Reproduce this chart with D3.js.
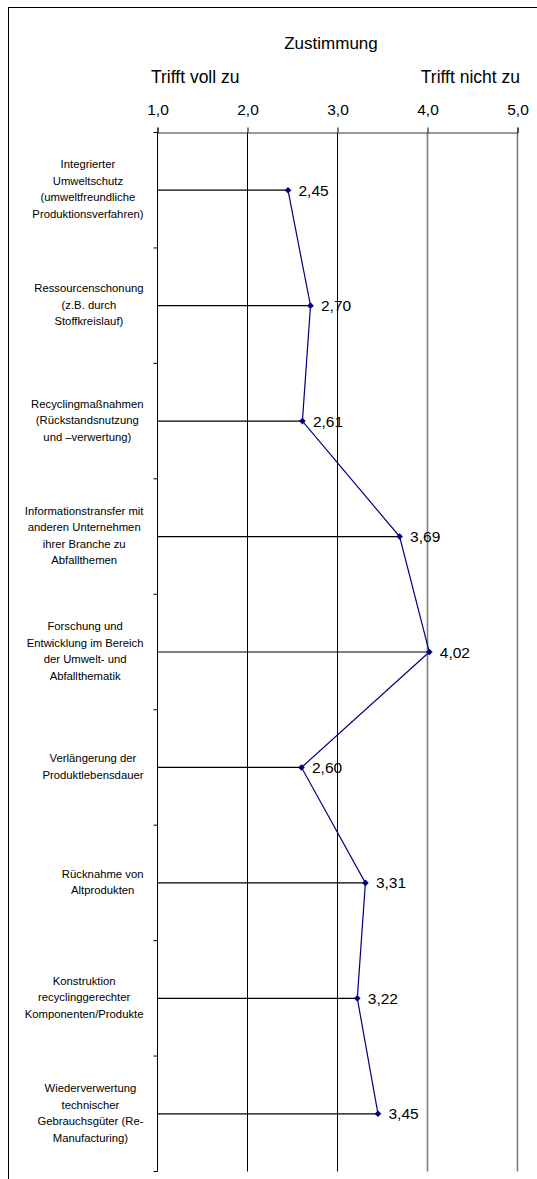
<!DOCTYPE html>
<html>
<head>
<meta charset="utf-8">
<script src="https://cdn.jsdelivr.net/npm/d3@7"></script>
<style>
  html, body { margin: 0; padding: 0; background: #fff; }
  svg { display: block; font-family: "Liberation Sans", Arial, Helvetica, sans-serif; }
</style>
</head>
<body>
<svg id="chart" width="537" height="1179"></svg>
<script>
// Category labels, one entry per line of the wrapped label
const categories = [
  ["Integrierter", "Umweltschutz", "(umweltfreundliche", "Produktionsverfahren)"],
  ["Ressourcenschonung", "(z.B. durch", "Stoffkreislauf)"],
  ["Recyclingmaßnahmen", "(Rückstandsnutzung", "und –verwertung)"],
  ["Informationstransfer mit", "anderen Unternehmen", "ihrer Branche zu", "Abfallthemen"],
  ["Forschung und", "Entwicklung im Bereich", "der Umwelt- und", "Abfallthematik"],
  ["Verlängerung der", "Produktlebensdauer"],
  ["Rücknahme von", "Altprodukten"],
  ["Konstruktion", "recyclinggerechter", "Komponenten/Produkte"],
  ["Wiederverwertung", "technischer", "Gebrauchsgüter (Re-", "Manufacturing)"]
];

// Mean agreement (1 = trifft voll zu, 5 = trifft nicht zu)
const values = [2.45, 2.70, 2.61, 3.69, 4.02, 2.60, 3.31, 3.22, 3.45];

// Scale ticks and headings
const tickValues = [1, 2, 3, 4, 5];
const titleText = "Zustimmung";
const leftAnchorText = "Trifft voll zu";
const rightAnchorText = "Trifft nicht zu";

const de = d3.formatLocale({ decimal: ",", thousands: ".", grouping: [3], currency: ["", " €"] });
const fmtTick = de.format(".1f");
const fmtValue = de.format(".2f");

const svg = d3.select("#chart");

// Outer frame (runs off the right and bottom edges)
svg.append("rect")
  .attr("x", 8.5).attr("y", 7.5)
  .attr("width", 560).attr("height", 1200)
  .attr("fill", "none").attr("stroke", "#000").attr("stroke-width", 1);

const x = d3.scaleLinear().domain([1, 5]).range([157.5, 517.5]);
const y = d3.scaleBand().domain(d3.range(categories.length)).range([132.5, 1171.5]).padding(0);
const cy = i => y(i) + y.bandwidth() / 2;

// Vertical gridlines (the two right-hand ones print softer)
svg.append("g").selectAll("line")
  .data(tickValues.slice(1))
  .join("line")
  .attr("x1", d => x(d)).attr("x2", d => x(d))
  .attr("y1", y.range()[0]).attr("y2", y.range()[1])
  .attr("stroke", d => d >= 4 ? "#7c7c7c" : "#000")
  .attr("stroke-width", d => d >= 4 ? 1.6 : 1);

// Top value axis
const xAxis = d3.axisTop(x).tickValues(tickValues).tickSize(5).tickPadding(13).tickFormat(fmtTick);
const gx = svg.append("g").attr("transform", `translate(0,${y.range()[0]})`).call(xAxis);
gx.select(".domain").attr("stroke", "#333");
gx.selectAll(".tick line").attr("stroke", "#000");
gx.selectAll(".tick text")
  .attr("font-size", 15.5).attr("fill", "#000")
  .attr("font-family", "'Liberation Sans', Arial, sans-serif");

// Left category axis (ticks at band boundaries)
const boundaries = d3.range(categories.length + 1).map(i => y.range()[0] + i * y.bandwidth());
svg.append("line")
  .attr("x1", x(1)).attr("x2", x(1))
  .attr("y1", y.range()[0]).attr("y2", y.range()[1])
  .attr("stroke", "#000").attr("stroke-width", 1);
svg.append("g").selectAll("line")
  .data(boundaries)
  .join("line")
  .attr("x1", x(1) - 4).attr("x2", x(1))
  .attr("y1", d => d).attr("y2", d => d)
  .attr("stroke", "#000").attr("stroke-width", 1);

// Headings
svg.append("text")
  .attr("x", 331).attr("y", 48.5)
  .attr("text-anchor", "middle").attr("font-size", 17).attr("fill", "#000")
  .text(titleText);
svg.append("text")
  .attr("x", 151).attr("y", 82.5)
  .attr("text-anchor", "start").attr("font-size", 17.5).attr("fill", "#000")
  .text(leftAnchorText);
svg.append("text")
  .attr("x", 520).attr("y", 82.5)
  .attr("text-anchor", "end").attr("font-size", 17.5).attr("fill", "#000")
  .text(rightAnchorText);

// Category labels: each block sits left of the axis, lines centred within the block
const lineH = 16.5;
const labelRight = 143.5;
const labelGroups = svg.append("g").selectAll("g")
  .data(categories)
  .join("g");
labelGroups.each(function (lines, i) {
  const g = d3.select(this);
  const n = lines.length;
  const texts = g.selectAll("text")
    .data(lines)
    .join("text")
    .attr("font-size", 11.3)
    .attr("fill", "#000")
    .attr("text-anchor", "middle")
    .attr("y", (d, k) => cy(i) + (k - (n - 1) / 2) * lineH + 3)
    .text(d => d);
  let w = 0;
  texts.each(function () { w = Math.max(w, this.getComputedTextLength()); });
  texts.attr("x", labelRight - w / 2);
});

// Drop lines from the axis to each value
svg.append("g").selectAll("line")
  .data(values)
  .join("line")
  .attr("x1", x(1)).attr("x2", d => x(d))
  .attr("y1", (d, i) => cy(i)).attr("y2", (d, i) => cy(i))
  .attr("stroke", "#000").attr("stroke-width", 1.2);

// Profile line
const line = d3.line().x(d => x(d)).y((d, i) => cy(i));
svg.append("path")
  .datum(values)
  .attr("d", line)
  .attr("fill", "none")
  .attr("stroke", "#000080")
  .attr("stroke-width", 1.2);

// Diamond markers
const diamond = d3.symbol().type(d3.symbolSquare).size(22);
svg.append("g").selectAll("path")
  .data(values)
  .join("path")
  .attr("d", diamond)
  .attr("transform", (d, i) => `translate(${x(d)},${cy(i)}) rotate(45)`)
  .attr("fill", "#000080");

// Value labels
svg.append("g").selectAll("text")
  .data(values)
  .join("text")
  .attr("x", d => x(d) + 10.5)
  .attr("y", (d, i) => cy(i) + 5.5)
  .attr("font-size", 15.5)
  .attr("fill", "#000")
  .text(d => fmtValue(d));
</script>
</body>
</html>
